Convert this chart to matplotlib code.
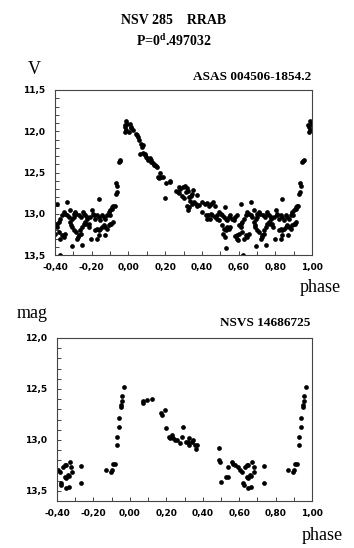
import numpy as np
import matplotlib.pyplot as plt
from matplotlib.ticker import MultipleLocator, FuncFormatter

plt.rcParams['mathtext.fontset'] = 'custom'
plt.rcParams['mathtext.rm'] = 'Liberation Serif'
plt.rcParams['mathtext.bf'] = 'Liberation Serif:bold'

# ASAS 004506-1854.2 light curve (phase 0..1)
asas_phase = [
    0.003, 0.007, 0.012, 0.016, 0.025,
    0.043, 0.048, 0.052, 0.056, 0.070, 0.077, 0.073,
    0.065, 0.077, 0.088, 0.092, 0.097, 0.103, 0.107, 0.116, 0.121, 0.125, 0.134, 0.140, 0.146, 0.150, 0.157,
    0.160, 0.169, 0.178, 0.174, 0.187, 0.200, 0.205, 0.229, 0.224,
    0.260, 0.269, 0.274, 0.277, 0.281, 0.290, 0.299, 0.303,
    0.308, 0.317, 0.312, 0.325, 0.330, 0.339, 0.348, 0.335, 0.321, 0.330, 0.325, 0.353, 0.372,
    0.348, 0.357, 0.366, 0.375, 0.384,
    0.402, 0.415, 0.426, 0.439, 0.448, 0.462, 0.469,
    0.402, 0.420, 0.429, 0.448, 0.457, 0.469, 0.480, 0.484, 0.493, 0.444, 0.433,
    0.493, 0.502, 0.511, 0.524, 0.520, 0.529, 0.538, 0.547, 0.556, 0.565, 0.574, 0.583, 0.589,
    0.511, 0.520, 0.529, 0.538, 0.547, 0.556, 0.516, 0.524, 0.583, 0.593, 0.596,
    0.529,
    0.611, 0.665,
    0.602, 0.611, 0.620, 0.629, 0.638, 0.647, 0.656, 0.665, 0.674, 0.684, 0.693, 0.702, 0.711, 0.702, 0.689,
    0.593, 0.602, 0.629, 0.638, 0.647, 0.656, 0.611, 0.620,
    0.693, 0.625,
    0.720, 0.729, 0.738, 0.747, 0.756, 0.765, 0.774, 0.784, 0.793, 0.802, 0.811, 0.820, 0.829, 0.838,
    0.847, 0.856, 0.865, 0.874, 0.883, 0.893, 0.902, 0.911, 0.916,
    0.756, 0.765, 0.774, 0.743,
    0.820, 0.829, 0.838, 0.847, 0.856, 0.865, 0.874, 0.883, 0.893, 0.902, 0.907, 0.914, 0.829, 0.838,
    0.838, 0.747, 0.798,
    0.684, 0.717, 0.731, 0.753, 0.690, 0.702, 0.713, 0.726, 0.739, 0.771, 0.786, 0.808, 0.871, 0.898, 0.913,
    0.925, 0.930, 0.937, 0.934, 0.938, 0.947, 0.952, 0.956, 0.979, 0.984, 0.988, 0.984, 0.989, 0.994,
]
asas_mag = [
    12.01, 11.91, 11.95, 11.96, 11.98,
    12.03, 12.05, 12.07, 12.10, 12.15, 12.17, 12.19,
    12.27, 12.26, 12.27, 12.29, 12.31, 12.33, 12.35, 12.33, 12.35, 12.37, 12.39, 12.41, 12.41, 12.42, 12.43,
    12.55, 12.57, 12.55, 12.51, 12.56, 12.81, 12.63, 12.62, 12.60,
    12.72, 12.74, 12.75, 12.67, 12.70, 12.79, 12.67, 12.81,
    12.66, 12.69, 12.74, 12.72, 12.80, 12.78, 12.76, 12.84, 12.90, 12.92, 12.95, 12.71, 12.77,
    12.88, 12.86, 12.88, 12.90, 12.89,
    12.86, 12.88, 12.87, 12.90, 12.88, 12.86, 12.90,
    12.98, 13.02, 13.06, 13.00, 13.02, 13.04, 13.02, 13.06, 13.08, 13.06, 13.02,
    12.98, 13.00, 13.02, 12.92, 13.04, 13.06, 13.08, 13.04, 13.02, 13.06, 13.08, 13.04, 13.02,
    13.14, 13.18, 13.20, 13.16, 13.18, 13.16, 13.24, 13.28, 13.27, 13.30, 13.32,
    13.41,
    12.88, 12.86,
    13.14, 13.12, 13.10, 13.06, 13.02, 12.98, 13.00, 13.02, 13.04, 13.10, 13.06, 13.00, 12.98, 13.04, 13.14,
    13.26, 13.24, 13.30, 13.26, 13.28, 13.24, 13.16, 13.22,
    13.39, 13.50,
    13.30, 13.26, 13.20, 13.16, 13.12, 13.10, 13.06, 13.12, 13.04, 12.96, 13.02, 13.06, 13.02, 13.04,
    13.08, 13.02, 13.04, 13.06, 13.02, 12.98, 12.96, 12.92, 12.90,
    13.00, 13.02, 13.04, 13.04,
    13.20, 13.18, 13.20, 13.18, 13.16, 13.14, 13.16, 13.18, 13.14, 13.12, 13.12, 13.10, 13.30, 13.26,
    12.82, 13.38, 13.30,
    12.96, 13.00, 13.02, 12.98, 13.16, 13.20, 13.22, 13.28, 13.24, 13.12, 13.16, 13.00, 13.26, 13.02, 12.94,
    12.90, 12.76, 12.74, 12.63, 12.66, 12.37, 12.36, 12.35, 11.93, 11.95, 11.99, 12.01, 11.88, 11.91,
]

# NSVS 14686725 light curve (phase 0..1)
nsvs_phase = [
    0.071, 0.073, 0.093, 0.120,
    0.171, 0.175, 0.193, 0.200,
    0.215, 0.221, 0.234, 0.239, 0.248, 0.257, 0.276, 0.285, 0.291,
    0.309, 0.321, 0.323, 0.326, 0.339, 0.349, 0.358, 0.367, 0.363,
    0.490, 0.490, 0.495, 0.499, 0.528, 0.537, 0.541, 0.560, 0.569, 0.578, 0.591,
    0.606, 0.615, 0.620, 0.624, 0.633, 0.642, 0.651, 0.670, 0.642, 0.651, 0.664, 0.660,
    0.651, 0.664, 0.679, 0.683, 0.734, 0.734,
    0.870, 0.894, 0.903, 0.909, 0.918, 0.927, 0.927, 0.940, 0.940, 0.949, 0.953, 0.955, 0.955, 0.966,
]
nsvs_mag = [
    12.64, 12.62, 12.61, 12.60,
    12.74, 12.76, 12.71, 12.88,
    12.97, 12.98, 12.95, 12.98, 13.00, 13.00, 13.03, 12.97, 12.87,
    13.02, 13.02, 13.05, 12.98, 13.02, 13.00, 13.05, 13.05, 13.09,
    13.08, 13.20, 13.22, 13.41, 13.36, 13.36, 13.27, 13.22, 13.24, 13.25, 13.27,
    13.30, 13.32, 13.42, 13.44, 13.27, 13.25, 13.25, 13.22, 13.36, 13.37, 13.35, 13.34,
    13.47, 13.46, 13.27, 13.32, 13.26, 13.42,
    13.30, 13.32, 13.30, 13.24, 13.24, 13.05, 12.97, 12.87, 12.79, 12.68, 12.66, 12.62, 12.57, 12.48,
]

x_ticks = [-0.4, -0.2, 0.0, 0.2, 0.4, 0.6, 0.8, 1.0]
asas_yticks = [11.5, 12.0, 12.5, 13.0, 13.5]
nsvs_yticks = [12.0, 12.5, 13.0, 13.5]


def extend(ph, mg):
    # phases above 0.6 are repeated one cycle earlier
    ph = np.array(ph)
    mg = np.array(mg)
    sel = ph >= 0.6
    return np.concatenate([ph, ph[sel] - 1]), np.concatenate([mg, mg[sel]])


W, H = 354, 548
fig = plt.figure(figsize=(W / 100, H / 100), dpi=100)


def px(x, y):
    return x / W, 1 - y / H


def setup(ax, ylim, yticks):
    ax.set_xlim(-0.4, 1.0)
    ax.set_ylim(*ylim)
    ax.set_xticks(x_ticks)
    ax.set_yticks(yticks)
    ax.xaxis.set_minor_locator(MultipleLocator(0.1))
    ax.yaxis.set_minor_locator(MultipleLocator(0.1))
    ax.xaxis.set_major_formatter(FuncFormatter(lambda v, p: f"{v:.2f}".replace('.', ',')))
    ax.yaxis.set_major_formatter(FuncFormatter(lambda v, p: f"{v:.1f}".replace('.', ',')))
    ax.tick_params(which='both', direction='in', length=3, width=0.7, color='#444')
    ax.tick_params(axis='x', pad=6)
    ax.tick_params(axis='y', pad=7)
    for lab in ax.get_xticklabels() + ax.get_yticklabels():
        lab.set_fontsize(6.5)
        lab.set_fontweight('bold')
    for s in ax.spines.values():
        s.set_color('#444')
        s.set_linewidth(0.8)


l, b = px(55, 255)
r, t = px(312, 90)
ax1 = fig.add_axes([l, b, r - l, t - b])
p, m = extend(asas_phase, asas_mag)
ax1.plot(p, m, 'o', color='black', ms=3.4, mec='none')
setup(ax1, (13.5, 11.5), asas_yticks)

l, b = px(57, 501)
r, t = px(312, 338)
ax2 = fig.add_axes([l, b, r - l, t - b])
p, m = extend(nsvs_phase, nsvs_mag)
ax2.plot(p, m, 'o', color='black', ms=3.4, mec='none')
setup(ax2, (13.6, 12.0), nsvs_yticks)

serif = 'Liberation Serif'
fig.text(*px(174, 21), 'NSV 285    RRAB', family=serif, fontsize=10, fontweight='bold', ha='center', va='center')
fig.text(*px(174, 41), r'P=0$^{\mathbf{d}}$.497032', family=serif, fontsize=10, fontweight='bold', ha='center', va='center')
fig.text(*px(34, 70), 'V', family=serif, fontsize=13, ha='center', va='center')
fig.text(*px(311, 77), 'ASAS 004506-1854.2', family=serif, fontsize=9.5, fontweight='bold', ha='right', va='center')
fig.text(*px(320, 288), 'phase', family=serif, fontsize=13, ha='center', va='center')
fig.text(*px(32, 314), 'mag', family=serif, fontsize=13, ha='center', va='center')
fig.text(*px(310, 323), 'NSVS 14686725', family=serif, fontsize=9.5, fontweight='bold', ha='right', va='center')
fig.text(*px(322, 535), 'phase', family=serif, fontsize=13, ha='center', va='center')

fig.savefig('out.png', dpi=100)
